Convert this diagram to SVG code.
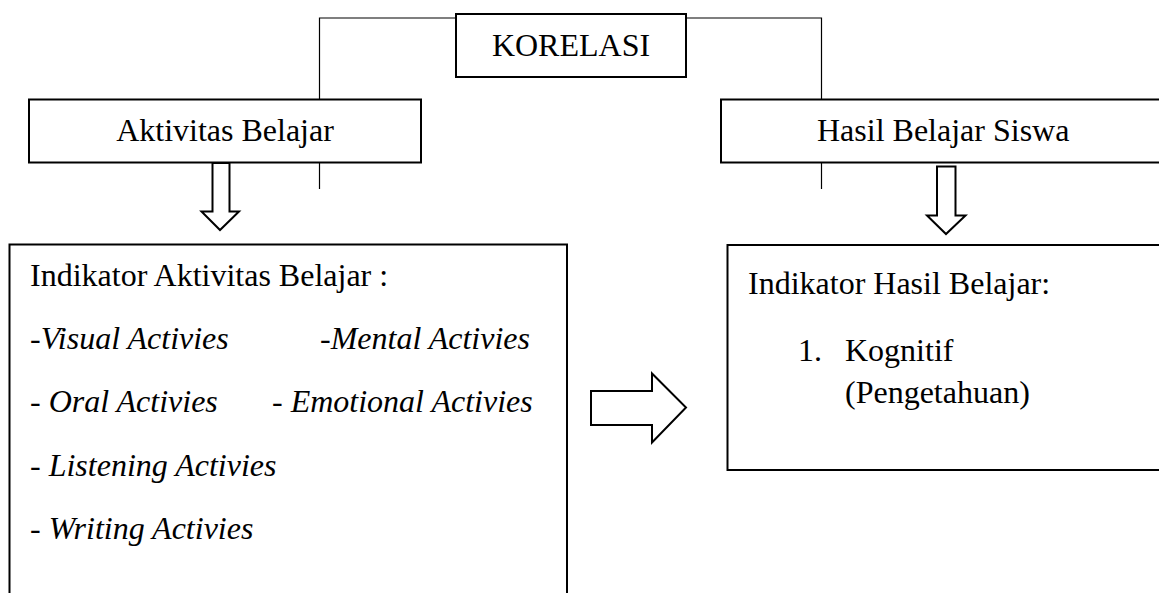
<svg xmlns="http://www.w3.org/2000/svg" width="1159" height="593" viewBox="0 0 1159 593">
<style>
.box{fill:#fff;stroke:#000;stroke-width:2}
.arr{fill:#fff;stroke:#000;stroke-width:2;stroke-linejoin:miter}
.conn{fill:none;stroke:#000;stroke-width:1.2}
text{font-family:"Liberation Serif","Times New Roman",serif;font-size:32px;fill:#000}
.it{font-style:italic}
</style>
<rect width="1159" height="593" fill="#fff"/>
<g id="connectors">
<polyline class="conn" points="319.5,99 319.5,18 456,18"/>
<polyline class="conn" points="686,18 821.5,18 821.5,99"/>
<line class="conn" x1="319.5" y1="163" x2="319.5" y2="189"/>
<line class="conn" x1="821.5" y1="163" x2="821.5" y2="189"/>
<polygon id="arrow-down-left" class="arr" points="212.5,163 229.5,163 229.5,211.5 239,211.5 220,230 201.5,211.5 212.5,211.5"/>
<polygon id="arrow-down-right" class="arr" points="937,166.5 955.5,166.5 955.5,215.5 965.5,215.5 946,234 927,215.5 937,215.5"/>
<polygon id="arrow-right" class="arr" points="591,391 652,391 652,373.5 686,407.5 652,442.5 652,425 591,425"/>
</g>
<g id="korelasi">
<rect class="box" x="456" y="14" width="230" height="63"/>
<text x="571" y="56" text-anchor="middle">KORELASI</text>
</g>
<g id="aktivitas">
<rect class="box" x="29" y="99.5" width="392" height="63"/>
<text x="225" y="141" text-anchor="middle">Aktivitas Belajar</text>
</g>
<g id="hasil">
<rect class="box" x="721" y="99.5" width="460" height="63"/>
<text x="817" y="141">Hasil Belajar Siswa</text>
</g>
<g id="indikator-aktivitas">
<rect class="box" x="9.5" y="244.5" width="557.5" height="370"/>
<text x="30" y="286">Indikator Aktivitas Belajar :</text>
<text class="it" x="30" y="349">-Visual Activies</text>
<text class="it" x="320" y="349">-Mental Activies</text>
<text class="it" x="30" y="412">- Oral Activies</text>
<text class="it" x="272" y="412">- Emotional Activies</text>
<text class="it" x="30" y="476">- Listening Activies</text>
<text class="it" x="30" y="539">- Writing Activies</text>
</g>
<g id="indikator-hasil">
<rect class="box" x="727.5" y="245" width="460" height="225"/>
<text x="748" y="294">Indikator Hasil Belajar:</text>
<text x="798" y="361">1.</text>
<text x="845" y="361">Kognitif</text>
<text x="845" y="403">(Pengetahuan)</text>
</g>
</svg>
